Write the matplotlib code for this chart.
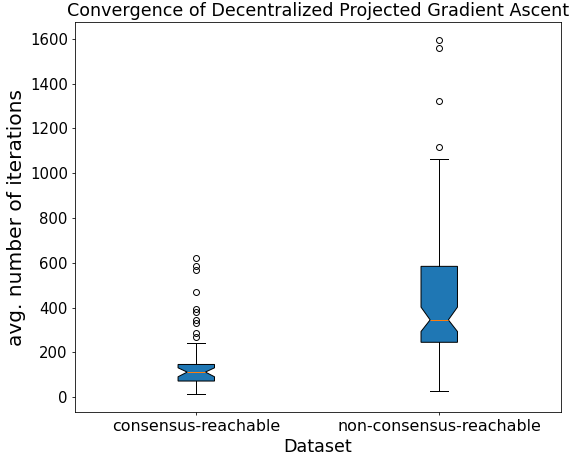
import matplotlib
matplotlib.use('Agg')
import matplotlib.pyplot as plt
import numpy as np

labels = ['consensus-reachable', 'non-consensus-reachable']
medians = [112, 345]
q1 = [72, 245]
q3 = [146, 584]
whislo = [12, 28]
whishi = [243, 1062]
ci_lo = [91, 293]
ci_hi = [131, 402]
fliers_cr = [621, 585, 566, 469, 394, 382, 345, 333, 285, 270]
fliers_ncr = [1596, 1557, 1323, 1119]
fliers = [fliers_cr, fliers_ncr]

stats = []
for i in range(len(labels)):
    stats.append({'med': medians[i], 'q1': q1[i], 'q3': q3[i],
                  'whislo': whislo[i], 'whishi': whishi[i],
                  'cilo': ci_lo[i], 'cihi': ci_hi[i],
                  'fliers': np.array(fliers[i]), 'label': labels[i]})

dpi = 71.4
fig = plt.figure(figsize=(571 / dpi, 457 / dpi), dpi=dpi)
ax = fig.add_axes([0.131, 0.098, 0.851, 0.854])
ax.bxp(stats, shownotches=True, patch_artist=True,
       boxprops=dict(facecolor='#1f77b4'))
ax.set_title('Convergence of Decentralized Projected Gradient Ascent', fontsize=17.7)
ax.set_xlabel('Dataset', fontsize=17.6)
ax.set_ylabel('avg. number of iterations', fontsize=20.3)
ax.tick_params(axis='x', labelsize=16)
ax.tick_params(axis='y', labelsize=15)
fig.savefig('out.png', dpi=dpi)
